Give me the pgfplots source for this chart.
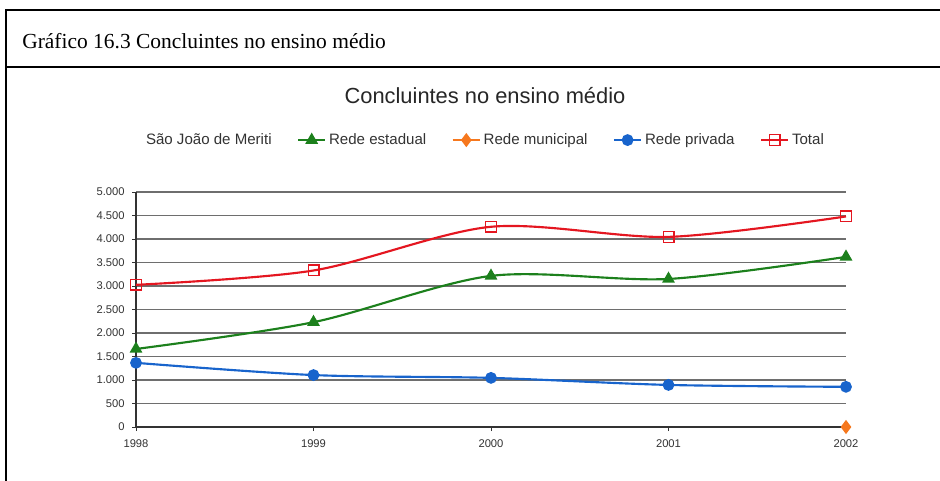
\documentclass[border=0pt]{standalone}
\usepackage{fontspec}
\setmainfont{Liberation Sans}
\newfontfamily\timesfont{Liberation Serif}
\usepackage{pgfplots}
\pgfplotsset{compat=1.18}
\definecolor{cred}{RGB}{228,22,32}
\definecolor{cgreen}{RGB}{28,128,28}
\definecolor{cblue}{RGB}{24,100,204}
\definecolor{corange}{RGB}{246,120,30}
\definecolor{cgrid}{RGB}{110,110,110}
\begin{document}
\begin{tikzpicture}
\begin{scope}[x=0.75pt,y=-0.75pt]
\useasboundingbox (0,0) rectangle (940,481);
\draw[line width=1.5pt] (5,10.5) -- (940,10.5);
\draw[line width=1.5pt] (5,67.5) -- (940,67.5);
\draw[line width=1.5pt] (6,10) -- (6,481);
\node[anchor=base west, inner sep=0pt, font=\timesfont\fontsize{16.1}{18}\selectfont] at (22,49) {Gráfico 16.3 Concluintes no ensino médio};
\node[anchor=base, inner sep=0pt, font=\fontsize{16.4}{18}\selectfont, text=black!85] at (485,104) {Concluintes no ensino médio};
\end{scope}
\begin{axis}[
  at={(102pt,-320.25pt)}, anchor=south west,
  scale only axis, width=532.5pt, height=176.25pt,
  xmin=1998, xmax=2002, ymin=0, ymax=5000,
  xtick={1998,1999,2000,2001,2002},
  xticklabels={1998,1999,2000,2001,2002},
  ytick={0,500,...,5000},
  axis x line*=bottom, axis y line*=left,
  axis line style={-, line width=0.9pt, black!80},
  ymajorgrids, grid style={cgrid, line width=1pt},
  tick align=outside, major tick length=3pt,
  tick style={black!80, line width=0.6pt},
  tick label style={font=\fontsize{8.4}{9}\selectfont, text=black!80},
  yticklabel style={xshift=-2pt},
  xticklabel style={yshift=-3pt},
  /pgf/number format/.cd, 1000 sep={.}, assume math mode=true,
  /pgfplots/.cd,
  clip=false,
  legend columns=-1,
  legend style={at={(0.4915,1.221)}, anchor=center, draw=none, fill=none,
    font=\fontsize{11.3}{13}\selectfont, text=black!80,
    /tikz/every even column/.append style={column sep=17pt}},
  legend image code/.code={\draw[mark repeat=2,mark phase=2] plot coordinates {(0cm,0cm)(0.36cm,0cm)(0.72cm,0cm)};},
]
\addlegendimage{empty legend}
\addlegendentry{São João de Meriti\hspace{2pt}}
\addplot[cgreen, line width=1.6pt, smooth, mark=triangle*, mark size=4pt, mark options={solid}]
  coordinates {(1998,1660) (1999,2230) (2000,3215) (2001,3150) (2002,3620)};
\addlegendentry{Rede estadual}
\addplot[corange, line width=1.6pt, mark=diamond*, mark size=4pt]
  coordinates {(2002,0)};
\addlegendentry{Rede municipal}
\addplot[cblue, line width=1.6pt, smooth, mark=*, mark size=3.6pt]
  coordinates {(1998,1365) (1999,1105) (2000,1045) (2001,895) (2002,855)};
\addlegendentry{Rede privada}
\addplot[cred, line width=1.6pt, smooth, mark=square, mark size=4pt, mark options={line width=1pt}]
  coordinates {(1998,3025) (1999,3330) (2000,4260) (2001,4045) (2002,4480)};
\addlegendentry{Total}
\end{axis}
\end{tikzpicture}
\end{document}
